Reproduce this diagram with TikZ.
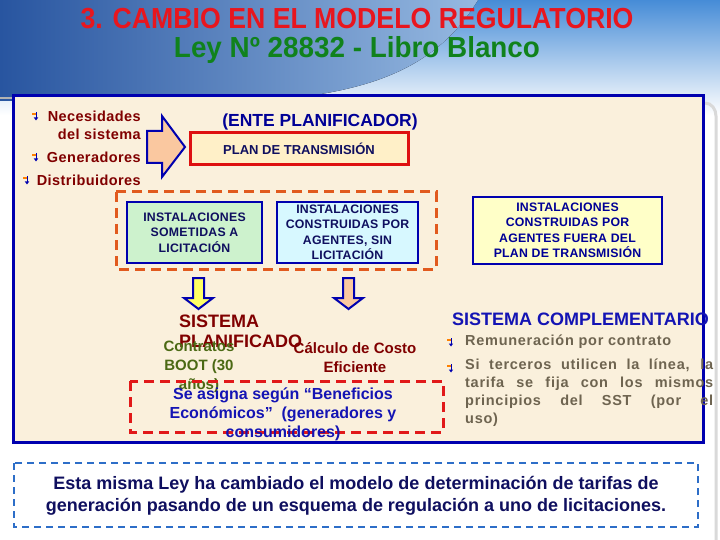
\documentclass[tikz,border=0pt]{standalone}
\usepackage{fontspec}
\setmainfont{Liberation Sans}
\usepackage{graphicx}
\definecolor{skyblue}{RGB}{70,140,215}
\definecolor{deepblue}{RGB}{40,85,160}
\definecolor{midblue}{RGB}{150,185,225}
\definecolor{titlered}{RGB}{232,22,30}
\definecolor{titlegreen}{RGB}{16,130,28}
\definecolor{panelblue}{RGB}{0,0,175}
\definecolor{parch}{RGB}{250,240,220}
\definecolor{wine}{RGB}{128,0,0}
\definecolor{navytext}{RGB}{15,15,95}
\definecolor{boxblue}{RGB}{0,0,150}
\definecolor{planred}{RGB}{222,16,16}
\definecolor{planfill}{RGB}{255,240,200}
\definecolor{licgreen}{RGB}{205,242,205}
\definecolor{agcyan}{RGB}{215,248,255}
\definecolor{fuerayellow}{RGB}{255,255,200}
\definecolor{dashorange}{RGB}{225,90,30}
\definecolor{dashred}{RGB}{225,25,25}
\definecolor{dashblue}{RGB}{45,110,200}
\definecolor{olive}{RGB}{75,105,20}
\definecolor{asigblue}{RGB}{20,20,180}
\definecolor{graytext}{RGB}{110,100,80}
\definecolor{arrowyellow}{RGB}{255,255,100}
\definecolor{arrowpeach}{RGB}{250,200,160}
\tikzset{
  bul/.pic={
    \draw[orange,line width=1.4] (-4,-2) -- (0,-2);
    \draw[panelblue,line width=0.9] (0,-4) -- (0,2);
    \fill[panelblue] (-2.2,1.5) -- (2.2,1.5) -- (0,4.5) -- cycle;
  },
  instbox/.style={draw=panelblue,line width=2.5,align=center,inner sep=0pt,
    font=\fontsize{12.3}{15.5}\selectfont\bfseries\addfontfeatures{LetterSpace=2}},
  blockarrow/.style={draw=panelblue,line width=2,line join=miter},
  listtext/.style={font=\fontsize{14.5}{17}\selectfont\bfseries\addfontfeatures{LetterSpace=3},text=wine,inner sep=0pt},
  graylist/.style={inner sep=0pt,font=\fontsize{14.5}{18}\selectfont\bfseries\addfontfeatures{LetterSpace=5},text=graytext}
}
\begin{document}
\begin{tikzpicture}[x=1pt,y=-1pt]
\useasboundingbox (0,0) rectangle (720,540);
\fill[white] (0,0) rectangle (720,540);
\fill[top color=skyblue,bottom color=white] (0,0) rectangle (720,115);
\fill[left color=deepblue,right color=midblue] (0,0) -- (478,0) .. controls (440,62) and (380,95) .. (250,101) -- (0,101) -- cycle;
\draw[gray!30,line width=3] (705,103) to[out=0,in=90] (716,116) -- (716,540);
\draw[gray!60,line width=2] (0,98) -- (12,98);

\node (title) at (357,19) {\scalebox{0.92}[1]{\fontsize{29}{29}\selectfont\bfseries\color{titlered}3. CAMBIO EN EL MODELO REGULATORIO}};
\node (ley) at (357,50) {\scalebox{0.96}[1]{\fontsize{29}{29}\selectfont\bfseries\color{titlegreen}Ley Nº 28832 - Libro Blanco}};

\draw[panelblue,line width=3,fill=parch] (13,96) rectangle (703,442);

% agentes
\node[listtext,anchor=east] (nec) at (141,116) {Necesidades};
\node[listtext,anchor=east] (sis) at (141,134) {del sistema};
\node[listtext,anchor=east] (gen) at (141,157) {Generadores};
\node[listtext,anchor=east] (dis) at (141,180) {Distribuidores};
\pic at (36,116) {bul};
\pic at (36,157) {bul};
\pic at (27,180) {bul};

\draw[blockarrow,fill=arrowpeach] (147,131) -- (162,131) -- (162,116) -- (185,147) -- (162,177) -- (162,163) -- (147,163) -- cycle;

\node[font=\fontsize{17.5}{17.5}\selectfont\bfseries,text=boxblue] (ente) at (320,122) {(ENTE PLANIFICADOR)};
\node[draw=planred,line width=3,fill=planfill,minimum width=218,minimum height=32,
  font=\fontsize{13}{13}\selectfont\bfseries,text=navytext] (plan) at (299,149) {PLAN DE TRANSMISIÓN};

\draw[dashorange,line width=3,dash pattern=on 10 off 6] (116,192) rectangle (436,269);
\node[instbox,fill=licgreen,text=navytext,minimum width=135,minimum height=61] (lic) at (194.5,232.5)
  {INSTALACIONES\\SOMETIDAS A\\LICITACIÓN};
\node[instbox,fill=agcyan,text=navytext,minimum width=141,minimum height=61] (sinlic) at (347.5,232.5)
  {INSTALACIONES\\CONSTRUIDAS POR\\AGENTES, SIN\\LICITACIÓN};
\node[instbox,fill=fuerayellow,text=boxblue,minimum width=189,minimum height=67] (fuera) at (567.5,230.5)
  {INSTALACIONES\\CONSTRUIDAS POR\\AGENTES FUERA DEL\\PLAN DE TRANSMISIÓN};

\draw[blockarrow,fill=arrowyellow] (193,278) -- (204,278) -- (204,298) -- (213,298) -- (198.5,309) -- (184,298) -- (193,298) -- cycle;
\draw[blockarrow,fill=arrowpeach] (343,278) -- (354,278) -- (354,298) -- (363,298) -- (348.5,309) -- (334,298) -- (343,298) -- cycle;

% sistema planificado
\node[anchor=west,align=left,inner sep=0pt,font=\fontsize{18}{20}\selectfont\bfseries,text=wine] (splan) at (179,331) {SISTEMA\\PLANIFICADO};
\node[align=center,font=\fontsize{15}{19}\selectfont\bfseries,text=olive] (boot) at (199,367) {Contratos\\BOOT (30\\años)};
\node[align=center,font=\fontsize{15}{19}\selectfont\bfseries,text=wine] (costo) at (355,357.5) {Cálculo de Costo\\Eficiente};
\draw[dashred,line width=3,dash pattern=on 10 off 6] (130,381) rectangle (443,432);
\node[align=center,font=\fontsize{16}{19}\selectfont\bfseries,text=asigblue] (asig) at (283,414)
  {Se asigna según “Beneficios\\Económicos”~ (generadores y\\consumidores)};

% sistema complementario
\node[anchor=west,inner sep=0pt,font=\fontsize{18}{18}\selectfont\bfseries,text=asigblue] (scomp) at (452,319) {SISTEMA COMPLEMENTARIO};
\pic at (451,342) {bul};
\pic at (451,368) {bul};
\node[graylist,anchor=west] (rem) at (465,342) {Remuneración por contrato};
\node[graylist,anchor=north west,text width=248,align=justify] (terc) at (465,359)
  {Si terceros utilicen la línea, la\linebreak tarifa se fija con los mismos\linebreak principios del SST (por el\linebreak uso)};

\draw[dashblue,line width=2,dash pattern=on 7 off 5] (14,463) rectangle (698,527);
\node[align=center,font=\fontsize{18}{22}\selectfont\bfseries,text=navytext] (ley2) at (356,496)
  {Esta misma Ley ha cambiado el modelo de determinación de tarifas de\\generación pasando de un esquema de regulación a uno de licitaciones.};
\end{tikzpicture}
\end{document}
